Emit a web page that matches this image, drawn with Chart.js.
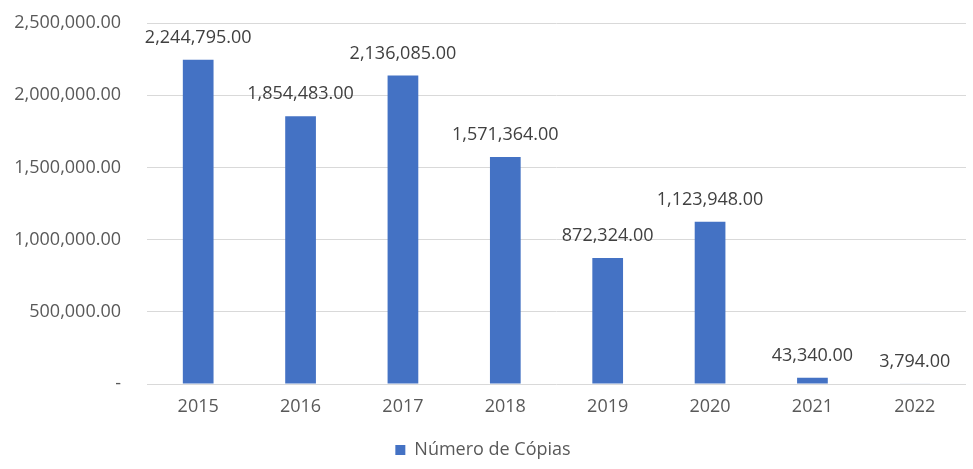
<!DOCTYPE html>
<html>
<head>
<meta charset="utf-8">
<script src="https://cdn.jsdelivr.net/npm/chart.js@4"></script>
<style>
  html, body { margin: 0; padding: 0; background: #fff; }
  #wrap { width: 973px; height: 469px; }
</style>
</head>
<body>
<div id="wrap"><canvas id="copiasChart"></canvas></div>
<script>
// Dados do gráfico
const anos = ["2015", "2016", "2017", "2018", "2019", "2020", "2021", "2022"];
const copias = [2244795, 1854483, 2136085, 1571364, 872324, 1123948, 43340, 3794];
const nomeSerie = "Número de Cópias";
const yMax = 2500000;
const yPasso = 500000;

const fonte = "'Open Sans', 'Noto Sans', sans-serif";
const corTexto = "#595959";

function formatar(v) {
  if (v === 0) return "-";
  return v.toLocaleString("en-US", { minimumFractionDigits: 2, maximumFractionDigits: 2 });
}

// Rótulos de valor acima de cada barra
const rotulosValor = {
  id: "rotulosValor",
  afterDatasetsDraw(chart) {
    const ctx = chart.ctx;
    const meta = chart.getDatasetMeta(0);
    ctx.save();
    ctx.font = "18px " + fonte;
    ctx.fillStyle = "#404040";
    ctx.textAlign = "center";
    ctx.textBaseline = "middle";
    meta.data.forEach(function (bar, i) {
      ctx.fillText(formatar(chart.data.datasets[0].data[i]), bar.x, bar.y - 22);
    });
    ctx.restore();
  }
};

const ctx = document.getElementById("copiasChart").getContext("2d");
const chart = new Chart(ctx, {
  type: "bar",
  data: {
    labels: anos,
    datasets: [{
      label: nomeSerie,
      data: copias,
      backgroundColor: "#4472C4",
      borderWidth: 0,
      barPercentage: 0.6,
      categoryPercentage: 0.5
    }]
  },
  options: {
    responsive: true,
    maintainAspectRatio: false,
    animation: false,
    layout: { padding: { top: 23, right: 7, left: 0, bottom: 0 } },
    scales: {
      y: {
        min: 0,
        max: yMax,
        ticks: {
          stepSize: yPasso,
          color: corTexto,
          font: { family: fonte, size: 18 },
          padding: 26,
          callback: function (v) { return formatar(v); }
        },
        grid: { color: "#d9d9d9", drawTicks: false },
        border: { display: false },
        afterFit: function (scale) {
          scale.width = 147;
          scale.paddingTop = 0;
          scale.paddingBottom = 0;
        }
      },
      x: {
        ticks: {
          color: corTexto,
          font: { family: fonte, size: 18 },
          padding: 12
        },
        grid: { display: false, drawTicks: false },
        border: { display: false },
        afterFit: function (scale) { scale.height = 51; }
      }
    },
    plugins: {
      legend: {
        display: true,
        position: "bottom",
        labels: {
          color: corTexto,
          font: { family: fonte, size: 18 },
          boxWidth: 10,
          boxHeight: 10,
          padding: 6
        }
      },
      tooltip: { enabled: false }
    }
  },
  plugins: [rotulosValor]
});
</script>
</body>
</html>
